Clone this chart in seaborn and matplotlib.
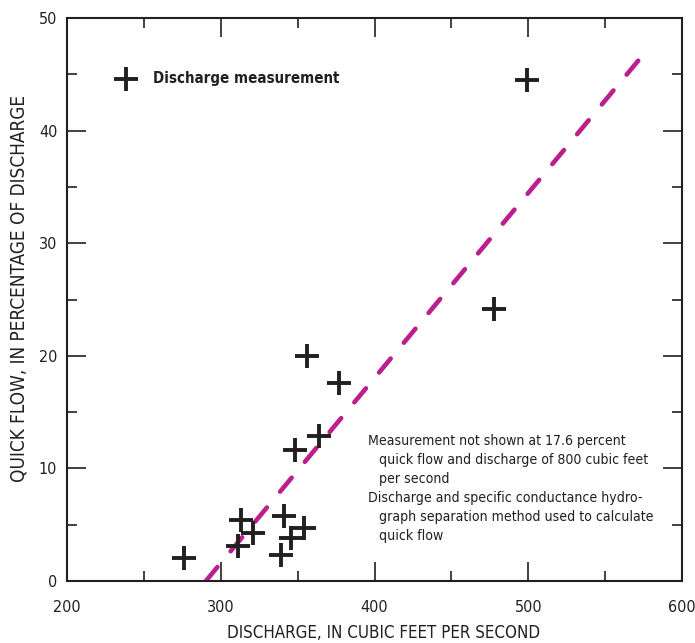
import matplotlib
matplotlib.use("Agg")
import matplotlib.pyplot as plt
import seaborn as sns
import pandas as pd
from matplotlib.ticker import MultipleLocator

# Data
discharge = [499, 478, 356, 377, 364, 348, 313, 321, 311, 276, 341, 354, 346, 339]
quick_flow = [44.5, 24.2, 20.0, 17.6, 12.9, 11.6, 5.4, 4.3, 3.1, 2.0, 5.8, 4.7, 3.8, 2.3]
line_x = [290.3, 574.5]
line_y = [0.0, 46.7]

x_ticks = [200, 300, 400, 500, 600]
y_ticks = [0, 10, 20, 30, 40, 50]

xlabel = "DISCHARGE, IN CUBIC FEET PER SECOND"
ylabel = "QUICK FLOW, IN PERCENTAGE OF DISCHARGE"
legend_label = "Discharge measurement"
note_lines = [
    ("Measurement not shown at 17.6 percent", 0),
    ("quick flow and discharge of 800 cubic feet", 1),
    ("per second", 1),
    ("Discharge and specific conductance hydro-", 0),
    ("graph separation method used to calculate", 1),
    ("quick flow", 1),
]

sns.set_theme(style="ticks")
plt.rcParams['font.family'] = ['DejaVu Sans']
plt.rcParams['font.stretch'] = 'condensed'

fig = plt.figure(figsize=(6.95, 6.43), dpi=100)
ax = fig.add_axes([67/695, 62/643, (682-67)/695, (581-18)/643])

dark = "#231F20"
magenta = "#BA1F8D"

df = pd.DataFrame({"x": discharge, "y": quick_flow})
sns.lineplot(x=line_x, y=line_y, ax=ax, color=magenta, linewidth=3.3,
             dashes=False, solid_capstyle='round')
ln = ax.lines[-1]
ln.set_linestyle((0, (3.95, 4.5)))
ln.set_dash_capstyle('round')
sns.scatterplot(data=df, x="x", y="y", ax=ax, marker="+", s=280,
                linewidth=2.8, color=dark, zorder=5, label=legend_label)

ax.set_xlim(200, 600)
ax.set_ylim(0, 50)
ax.set_xticks(x_ticks)
ax.set_yticks(y_ticks)
ax.xaxis.set_minor_locator(MultipleLocator(50))
ax.yaxis.set_minor_locator(MultipleLocator(5))
ax.tick_params(which='major', direction='in', length=14, width=1.2,
               top=True, right=True, labelsize=11.5, colors=dark)
ax.tick_params(which='minor', direction='in', length=7, width=1.2,
               top=True, right=True, colors=dark)
ax.tick_params(axis='x', which='major', pad=13.5)
ax.tick_params(axis='y', which='major', pad=7)
for s in ax.spines.values():
    s.set_visible(True)
    s.set_linewidth(1.5)
    s.set_color(dark)

ax.set_xlabel(xlabel, fontsize=12.2, color=dark)
ax.set_ylabel(ylabel, fontsize=13.6, color=dark)
ax.xaxis.set_label_coords(0.5154, -0.077)
ax.yaxis.set_label_coords(-0.062, 0.52)

leg = ax.legend(loc='upper left', bbox_to_anchor=(0.0715, 0.9055), frameon=False,
                handletextpad=0.8, handlelength=2.0, borderaxespad=0, borderpad=0,
                markerscale=1.0,
                prop={'weight': 'bold', 'size': 10.8, 'stretch': 'condensed'})
for t in leg.get_texts():
    t.set_color(dark)

y0 = 441
for i, (txt, indent) in enumerate(note_lines):
    ypix = y0 + i * 19
    ax.text((368 + indent * 11 - 67) / 615, (581 - ypix) / 563, txt,
            transform=ax.transAxes, fontsize=10.1, color=dark,
            va='center', ha='left')

fig.savefig("out.png", dpi=100)
